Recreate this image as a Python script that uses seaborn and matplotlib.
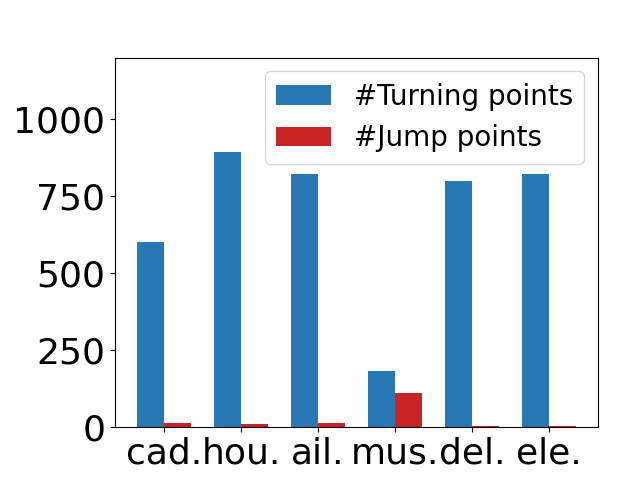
import pandas as pd
import matplotlib
matplotlib.use("Agg")
import matplotlib.pyplot as plt
import seaborn as sns

# dataset abbreviations and counts
datasets = ["cad.", "hou.", "ail.", "mus.", "del.", "ele."]
turning_points = [600, 893, 822, 182, 799, 822]
jump_points = [14, 9, 14, 111, 4, 3]

df = pd.DataFrame({
    "dataset": datasets * 2,
    "count": turning_points + jump_points,
    "kind": ["#Turning points"] * len(datasets) + ["#Jump points"] * len(datasets),
})

fig, ax = plt.subplots(figsize=(6.4, 4.8), dpi=100)
fig.subplots_adjust(left=0.18, right=0.934, bottom=0.11, top=0.88)

sns.barplot(
    data=df, x="dataset", y="count", hue="kind",
    palette=["#2878b5", "#c82423"], saturation=1,
    width=0.7, linewidth=0, ax=ax,
)

ax.set_xlabel("")
ax.set_ylabel("")
ax.set_xlim(-0.635, len(datasets) - 1 + 0.635)
ax.set_ylim(0, 1200)
ax.set_yticks([0, 250, 500, 750, 1000])
ax.tick_params(axis="both", labelsize=26)
ax.legend(loc="upper right", fontsize=20, title=None)

plt.savefig("out.png")
